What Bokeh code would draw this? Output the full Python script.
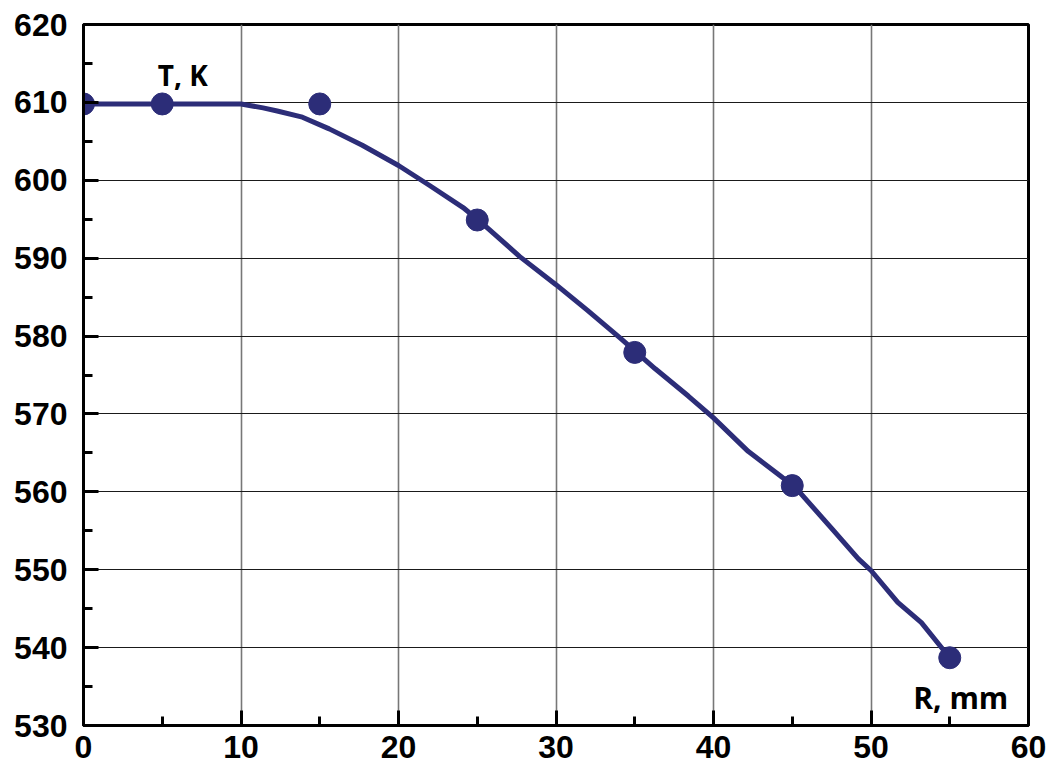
from bokeh.plotting import figure
from bokeh.embed import file_html
from bokeh.resources import INLINE
from bokeh.models import FixedTicker, Label

# Measured points (R, mm vs T, K)
point_r = [0, 5, 15, 25, 35, 45, 55]
point_t = [609.8, 609.8, 609.8, 594.9, 577.9, 560.8, 538.7]

# Calculated curve
curve_r = [0, 5, 10, 11.4, 12.3, 13.9, 15.6, 17.7, 20, 22, 24.1, 25.3, 27.7, 30, 32,
           34.1, 36.3, 38.4, 40, 42.2, 44.4, 45.1, 47.5, 49.2, 50, 51.7, 53.2, 54.6, 55]
curve_t = [609.8, 609.8, 609.8, 609.3, 608.9, 608.1, 606.6, 604.5, 601.9, 599.3, 596.5,
           594.5, 590.2, 586.6, 583.3, 579.7, 575.8, 572.3, 569.5, 565.2, 561.8, 560.8,
           555.3, 551.4, 549.9, 545.8, 543.2, 539.7, 538.7]

x_ticks = [0, 10, 20, 30, 40, 50, 60]
y_ticks = [530, 540, 550, 560, 570, 580, 590, 600, 610, 620]

color = "#2C2D78"

p = figure(width=1053, height=771, x_range=(0, 60), y_range=(530, 620),
           output_backend="svg", toolbar_location=None,
           min_border_left=83, min_border_right=25, min_border_top=24, min_border_bottom=46)

p.outline_line_color = "black"
p.outline_line_width = 3
p.outline_line_alpha = 1

p.line(curve_r, curve_t, line_color=color, line_width=5)
p.scatter(point_r, point_t, size=22, fill_color=color, line_color=color)

for ax, ticks in ((p.xaxis[0], x_ticks), (p.yaxis[0], y_ticks)):
    ax.ticker = FixedTicker(ticks=ticks,
                            minor_ticks=[t + 5 for t in ticks[:-1]])
    ax.major_label_text_font = "Liberation Sans"
    ax.major_label_text_font_style = "bold"
    ax.major_label_text_font_size = "32px"
    ax.major_label_text_color = "black"
    ax.axis_line_width = 3
    ax.axis_line_color = "black"
    ax.major_tick_line_width = 3
    ax.minor_tick_line_width = 3
    ax.major_tick_line_color = "black"
    ax.minor_tick_line_color = "black"
    ax.major_tick_in = 15
    ax.major_tick_out = 0
    ax.minor_tick_in = 9
    ax.minor_tick_out = 0

p.xaxis.major_label_standoff = 10
p.yaxis.major_label_standoff = 16

p.xgrid.ticker = FixedTicker(ticks=x_ticks)
p.ygrid.ticker = FixedTicker(ticks=y_ticks)
p.xgrid.grid_line_color = "#777777"
p.xgrid.grid_line_width = 1.6
p.ygrid.grid_line_color = "#1a1a1a"
p.ygrid.grid_line_width = 1.2

p.add_layout(Label(x=6.3, y=613.5, text="T, K", text_align="center",
                   text_baseline="alphabetic", text_font="Open Sans",
                   text_font_style="bold", text_font_size="28px", text_color="black"))
p.add_layout(Label(x=55.7, y=533.6, text="R, mm", text_align="center",
                   text_baseline="alphabetic", text_font="Open Sans",
                   text_font_style="bold", text_font_size="30px", text_color="black"))

open("out.html", "w").write(file_html(p, INLINE))
